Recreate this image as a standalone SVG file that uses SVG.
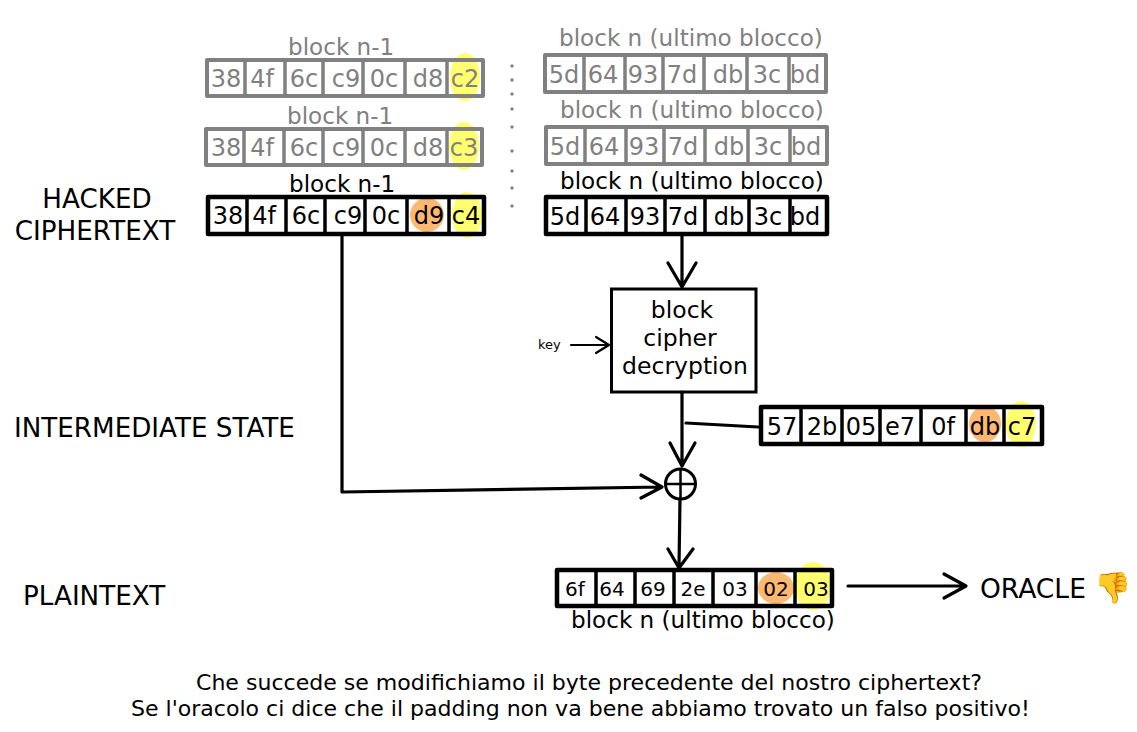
<svg xmlns="http://www.w3.org/2000/svg" width="1137" height="732" viewBox="0 0 1137 732">
<defs><style>
text{font-family:"DejaVu Sans",sans-serif;fill:#000}
.b{font-size:24px;text-anchor:middle}
.s{font-size:20px;text-anchor:middle}
.l{font-size:23.1px}
.t{font-size:26.200px}
.c{font-size:23.500px;text-anchor:middle}
.m{font-size:22.050px}
.g text{fill:#808080}
.box{fill:none;stroke:#000;stroke-width:4.500;stroke-linejoin:round}
.g .box{stroke:#808080;stroke-width:4}
.d{stroke:#000;stroke-width:3.500;fill:none}
.g .d{stroke:#808080}
.w{stroke:#000;stroke-width:3.200;fill:none;stroke-linecap:round;stroke-linejoin:round}
.k{stroke-width:2.200}
.y{fill:#ffff70}.o{fill:#ffb871}
</style></defs>
<rect width="1137" height="732" fill="#fff"/>
<g id="prev1" class="g">
<ellipse class="y" cx="465" cy="77" rx="15" ry="24"/>
<text class="l" x="288" y="55">block n-1</text>
<rect class="box" x="207" y="60" width="276" height="36"/>
<path class="d" d="M245 60V97M285 60V97M323 60V97M363 60V97M405 60V97M447 60V97"/>
<text class="b" x="226" y="87">38</text><text class="b" x="262" y="87">4f</text><text class="b" x="304" y="87">6c</text><text class="b" x="346" y="87">c9</text><text class="b" x="384" y="87">0c</text><text class="b" x="428" y="87">d8</text><text class="b" x="465" y="87">c2</text>
</g>
<g id="prev2" class="g">
<ellipse class="y" cx="464" cy="146" rx="15" ry="24"/>
<text class="l" x="287" y="124">block n-1</text>
<rect class="box" x="206" y="129" width="276" height="36"/>
<path class="d" d="M244 129V166M284 129V166M323 129V166M363 129V166M405 129V166M447 129V166"/>
<text class="b" x="226" y="156">38</text><text class="b" x="262" y="156">4f</text><text class="b" x="304" y="156">6c</text><text class="b" x="346" y="156">c9</text><text class="b" x="384" y="156">0c</text><text class="b" x="428" y="156">d8</text><text class="b" x="464" y="156">c3</text>
</g>
<g id="prev3">
<ellipse class="o" cx="427" cy="215" rx="17" ry="17"/>
<ellipse class="y" cx="467" cy="215" rx="15" ry="23"/>
<text class="l" x="289" y="192">block n-1</text>
<rect class="box" x="208" y="197" width="276" height="37"/>
<path class="d" d="M247 197V235M286 197V235M325 197V235M365 197V235M407 197V235M449 197V235"/>
<text class="b" x="228" y="224">38</text><text class="b" x="264" y="224">4f</text><text class="b" x="306" y="224">6c</text><text class="b" x="348" y="224">c9</text><text class="b" x="386" y="224">0c</text><text class="b" x="429" y="224">d9</text><text class="b" x="466" y="224">c4</text>
</g>
<g id="dots" fill="#808080">
<circle cx="512" cy="66" r="1.700"/><circle cx="512" cy="80" r="1.700"/><circle cx="512" cy="94" r="1.700"/><circle cx="512" cy="109" r="1.700"/><circle cx="512" cy="127" r="1.700"/><circle cx="512" cy="151" r="1.700"/><circle cx="512" cy="171" r="1.700"/><circle cx="512" cy="188" r="1.700"/><circle cx="512" cy="206" r="1.700"/>
</g>
<g id="last1" class="g">
<text class="l" x="559" y="46">block n (ultimo blocco)</text>
<rect class="box" x="545" y="55" width="281" height="37"/>
<path class="d" d="M584 55V93M625 55V93M663 55V93M704 55V93M747 55V93M789 55V93"/>
<text class="b" x="564" y="83">5d</text><text class="b" x="603" y="83">64</text><text class="b" x="643" y="83">93</text><text class="b" x="682" y="83">7d</text><text class="b" x="728" y="83">db</text><text class="b" x="767" y="83">3c</text><text class="b" x="805" y="83">bd</text>
</g>
<g id="last2" class="g">
<text class="l" x="560" y="118">block n (ultimo blocco)</text>
<rect class="box" x="546" y="127" width="281" height="37"/>
<path class="d" d="M585 127V165M626 127V165M664 127V165M705 127V165M748 127V165M790 127V165"/>
<text class="b" x="565" y="155">5d</text><text class="b" x="604" y="155">64</text><text class="b" x="644" y="155">93</text><text class="b" x="683" y="155">7d</text><text class="b" x="729" y="155">db</text><text class="b" x="768" y="155">3c</text><text class="b" x="806" y="155">bd</text>
</g>
<g id="last3">
<text class="l" x="560" y="189">block n (ultimo blocco)</text>
<rect class="box" x="546" y="197" width="281" height="37"/>
<path class="d" d="M586 197V235M626 197V235M665 197V235M705 197V235M749 197V235M790 197V235"/>
<text class="b" x="565" y="225">5d</text><text class="b" x="605" y="225">64</text><text class="b" x="645" y="225">93</text><text class="b" x="683" y="225">7d</text><text class="b" x="729" y="225">db</text><text class="b" x="768" y="225">3c</text><text class="b" x="805" y="225">bd</text>
</g>
<g id="cipher">
<rect x="611.500" y="289" width="144.500" height="103" fill="#fff" stroke="#000" stroke-width="3"/>
<text class="c" x="682" y="318">block</text>
<text class="c" x="680" y="346">cipher</text>
<text class="c" x="685" y="374">decryption</text>
</g>
<g id="intermediate">
<ellipse class="o" cx="985" cy="424" rx="16" ry="18"/>
<ellipse class="y" cx="1021" cy="424" rx="15" ry="23"/>
<rect class="box" x="761" y="407" width="281" height="37"/>
<path class="d" d="M801 407V445M842 407V445M880 407V445M921 407V445M966 407V445M1004 407V445"/>
<text class="b" x="782" y="435">57</text><text class="b" x="822" y="435">2b</text><text class="b" x="861" y="435">05</text><text class="b" x="900" y="435">e7</text><text class="b" x="943" y="435">0f</text><text class="b" x="985" y="435">db</text><text class="b" x="1022" y="435">c7</text>
</g>
<g id="plaintext">
<ellipse class="o" cx="776" cy="588" rx="18" ry="16"/>
<ellipse class="y" cx="813" cy="586" rx="18" ry="24"/>
<rect class="box" x="557" y="570" width="275" height="36"/>
<path class="d" d="M596 570V607M635 570V607M674 570V607M713 570V607M756 570V607M795 570V607"/>
<text class="s" x="575" y="596">6f</text><text class="s" x="612" y="596">64</text><text class="s" x="653" y="596">69</text><text class="s" x="693" y="596">2e</text><text class="s" x="735" y="596">03</text><text class="s" x="776" y="596">02</text><text class="s" x="816" y="596">03</text>
<text class="l" x="571" y="628">block n (ultimo blocco)</text>
</g>
<g id="xor">
<circle cx="680.500" cy="484" r="15" fill="#fff" stroke="#000" stroke-width="3"/>
<path d="M665 484H696M680.500 469V499" stroke="#000" stroke-width="2.500" fill="none"/>
</g>
<g id="connectors">
<path class="w" d="M682 234V287M668 263L682 287L696 263"/>
<path class="w k" d="M571 345H608M596 337L609 345L596 353"/>
<path class="w" d="M682 392V464M670 443L682 466L695 443"/>
<path class="w" d="M686 423L758 427"/>
<path class="w" d="M342 234V492M342 492L662 487M641 475L662 487L641 498"/>
<path class="w" d="M680 499L679 567M668 549L679 568L693 549"/>
<path class="w" d="M848 586H965M944 574L966 586L944 598"/>
</g>
<g id="labels">
<text class="t" x="97" y="208" text-anchor="middle">HACKED</text>
<text class="t" x="95" y="240" text-anchor="middle">CIPHERTEXT</text>
<text class="t" x="14" y="437">INTERMEDIATE STATE</text>
<text class="t" x="23" y="605">PLAINTEXT</text>
<text x="538" y="349" style="font-size:13px">key</text>
<text x="980" y="598" style="font-size:26.500px">ORACLE <tspan style="font-size:30px">👎</tspan></text>
<text class="m" x="196" y="690">Che succede se modifichiamo il byte precedente del nostro ciphertext?</text>
<text class="m" x="131" y="716">Se l'oracolo ci dice che il padding non va bene abbiamo trovato un falso positivo!</text>
</g>
</svg>
